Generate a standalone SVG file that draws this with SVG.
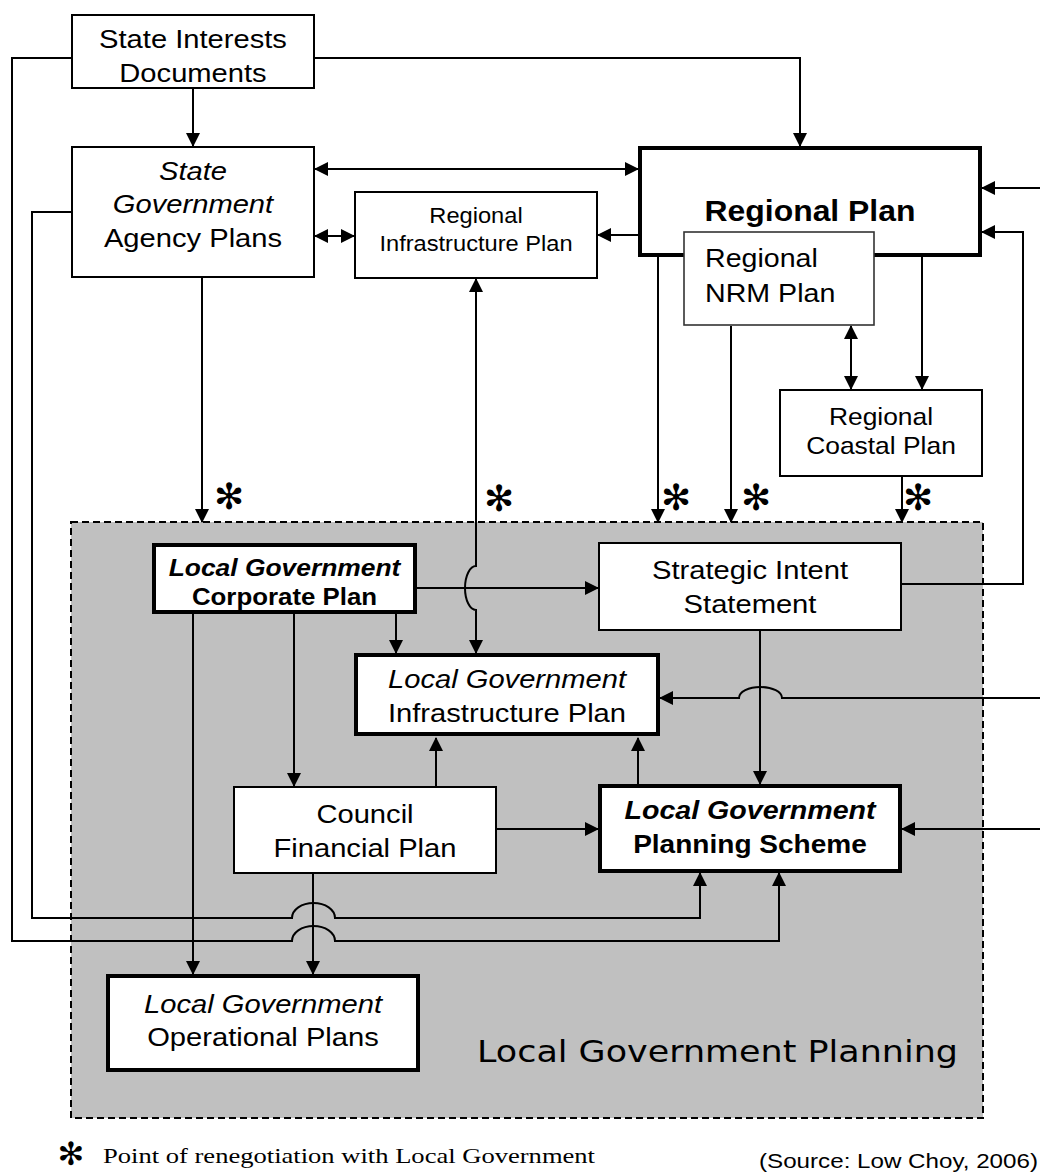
<svg xmlns="http://www.w3.org/2000/svg" width="1040" height="1172" viewBox="0 0 1040 1172">
<style>
.bg{fill:#ffffff}
.thin{fill:#ffffff;stroke:#000;stroke-width:2}
.nrm{fill:#ffffff;stroke:#333;stroke-width:1.6}
.thick{fill:#ffffff;stroke:#000;stroke-width:4}
.region{fill:#c0c0c0;stroke:#000;stroke-width:2;stroke-dasharray:7 4}
.t{font-family:'Liberation Sans',Arial,sans-serif;fill:#000;text-anchor:middle}
.s{text-anchor:start}
.i{font-style:italic}
.b{font-weight:bold}
.c{fill:none;stroke:#000;stroke-width:2}
.e{marker-end:url(#ah)}
.d{marker-start:url(#ah);marker-end:url(#ah)}
.star{font-family:'DejaVu Sans',sans-serif;font-size:36px;fill:#000;text-anchor:middle;dominant-baseline:central}
</style>
<defs>
<marker id="ah" viewBox="0 0 14 14" refX="13" refY="7" markerWidth="14" markerHeight="14" markerUnits="userSpaceOnUse" orient="auto-start-reverse">
<path d="M0,0 L14,7 L0,14 z" fill="#000"/>
</marker>
</defs>
<rect class="bg" x="0" y="0" width="1040" height="1172"/>
<g id="local-government-planning-region">
<rect class="region" x="71" y="522" width="912" height="596"/>
<text class="t s" x="477" y="1062" style="font-family:'DejaVu Sans',sans-serif;font-size:30px" textLength="481" lengthAdjust="spacingAndGlyphs">Local Government Planning</text>
</g>
<g id="connectors">
<path class="c e" d="M193,89 V146"/>
<path class="c e" d="M315,58 H800 V146"/>
<path class="c e" d="M71,58 H12 V941 H292 A21.5,15 0 0 1 335,941 H779 V873"/>
<path class="c e" d="M71,212 H32 V918 H292 A21.5,15 0 0 1 335,918 H700 V873"/>
<path class="c d" d="M315,169 H638"/>
<path class="c d" d="M315,236 H354"/>
<path class="c e" d="M638,235 H598"/>
<path class="c e" d="M202,278 V522"/>
<path class="c d" d="M476,279 V566 A11,22 0 0 0 476,610 V653"/>
<path class="c e" d="M658,257 V522"/>
<path class="c e" d="M731,326 V522"/>
<path class="c d" d="M851,326 V389"/>
<path class="c e" d="M922,257 V389"/>
<path class="c e" d="M902,477 V522"/>
<path class="c e" d="M1040,188 H982"/>
<path class="c e" d="M902,584 H1023 V232 H982"/>
<path class="c e" d="M417,588 H598"/>
<path class="c e" d="M396,614 V653"/>
<path class="c e" d="M294,614 V786"/>
<path class="c e" d="M193,614 V974"/>
<path class="c e" d="M1040,698 H782 A21.5,11 0 0 0 739,698 H660"/>
<path class="c e" d="M760,631 V784"/>
<path class="c e" d="M436,786 V738"/>
<path class="c e" d="M638,784 V738"/>
<path class="c e" d="M497,829 H598"/>
<path class="c e" d="M1040,829 H902"/>
<path class="c e" d="M313,874 V974"/>
</g>
<g id="state-interests-documents">
<rect class="thin" x="72" y="15" width="242" height="73"/>
<text class="t" style="font-size:26.5px" transform="translate(193 0) scale(1.1 1)" y="48">State Interests</text>
<text class="t" style="font-size:26.5px" transform="translate(193 0) scale(1.1 1)" y="82">Documents</text>
</g>
<g id="state-government-agency-plans">
<rect class="thin" x="72" y="147" width="242" height="130"/>
<text class="t i" style="font-size:26.5px" transform="translate(193 0) scale(1.1 1)" y="180">State</text>
<text class="t i" style="font-size:26.5px" transform="translate(193 0) scale(1.1 1)" y="213">Government</text>
<text class="t" style="font-size:26.5px" transform="translate(193 0) scale(1.1 1)" y="247">Agency Plans</text>
</g>
<g id="regional-infrastructure-plan">
<rect class="thin" x="355" y="192" width="242" height="86"/>
<text class="t" style="font-size:21.5px" transform="translate(476 0) scale(1.1 1)" y="223">Regional</text>
<text class="t" style="font-size:21.5px" transform="translate(476 0) scale(1.1 1)" y="251">Infrastructure Plan</text>
</g>
<g id="regional-plan">
<rect class="thick" x="640" y="148" width="340" height="107"/>
<text class="t b" style="font-size:29px" transform="translate(810 0) scale(1.1 1)" y="221">Regional Plan</text>
</g>
<g id="regional-nrm-plan">
<rect class="nrm" x="684" y="232" width="190" height="93"/>
<text class="t s" style="font-size:26px" transform="translate(705 0) scale(1.1 1)" y="267">Regional</text>
<text class="t s" style="font-size:26px" transform="translate(705 0) scale(1.1 1)" y="302">NRM Plan</text>
</g>
<g id="regional-coastal-plan">
<rect class="thin" x="780" y="390" width="202" height="86"/>
<text class="t" style="font-size:24px" transform="translate(881 0) scale(1.1 1)" y="425">Regional</text>
<text class="t" style="font-size:24px" transform="translate(881 0) scale(1.1 1)" y="454">Coastal Plan</text>
</g>
<g id="local-government-corporate-plan">
<rect class="thick" x="154" y="545" width="261" height="67"/>
<text class="t b i" style="font-size:24px" transform="translate(284.5 0) scale(1.1 1)" y="576">Local Government</text>
<text class="t b" style="font-size:23.5px" transform="translate(284.5 0) scale(1.1 1)" y="605">Corporate Plan</text>
</g>
<g id="strategic-intent-statement">
<rect class="thin" x="599" y="543" width="302" height="87"/>
<text class="t" style="font-size:26.5px" transform="translate(750 0) scale(1.1 1)" y="579">Strategic Intent</text>
<text class="t" style="font-size:26.5px" transform="translate(750 0) scale(1.1 1)" y="613">Statement</text>
</g>
<g id="local-government-infrastructure-plan">
<rect class="thick" x="356" y="655" width="302" height="79"/>
<text class="t i" style="font-size:26.5px" transform="translate(507 0) scale(1.1 1)" y="688">Local Government</text>
<text class="t" style="font-size:26.5px" transform="translate(507 0) scale(1.1 1)" y="722">Infrastructure Plan</text>
</g>
<g id="council-financial-plan">
<rect class="thin" x="234" y="787" width="262" height="86"/>
<text class="t" style="font-size:26.5px" transform="translate(365 0) scale(1.1 1)" y="823">Council</text>
<text class="t" style="font-size:26.5px" transform="translate(365 0) scale(1.1 1)" y="857">Financial Plan</text>
</g>
<g id="local-government-planning-scheme">
<rect class="thick" x="600" y="786" width="300" height="85"/>
<text class="t b i" style="font-size:26px" transform="translate(750 0) scale(1.1 1)" y="819">Local Government</text>
<text class="t b" style="font-size:25.5px" transform="translate(750 0) scale(1.1 1)" y="853">Planning Scheme</text>
</g>
<g id="local-government-operational-plans">
<rect class="thick" x="108" y="976" width="310" height="94"/>
<text class="t i" style="font-size:26.5px" transform="translate(263 0) scale(1.1 1)" y="1013">Local Government</text>
<text class="t" style="font-size:26.5px" transform="translate(263 0) scale(1.1 1)" y="1046">Operational Plans</text>
</g>
<g id="renegotiation-stars">
<text class="star" x="229" y="496">✻</text>
<text class="star" x="499" y="498">✻</text>
<text class="star" x="676" y="497">✻</text>
<text class="star" x="756" y="497">✻</text>
<text class="star" x="918" y="497">✻</text>
</g>
<g id="legend">
<text class="star" x="71" y="1154" style="font-size:32px">✻</text>
<text x="103" y="1163" style="font-family:'Liberation Serif','Times New Roman',serif;font-size:22px" textLength="492" lengthAdjust="spacingAndGlyphs">Point of renegotiation with Local Government</text>
<text x="759" y="1168" style="font-family:'Liberation Sans',Arial,sans-serif;font-size:21px" textLength="279" lengthAdjust="spacingAndGlyphs">(Source: Low Choy, 2006)</text>
</g>
</svg>
